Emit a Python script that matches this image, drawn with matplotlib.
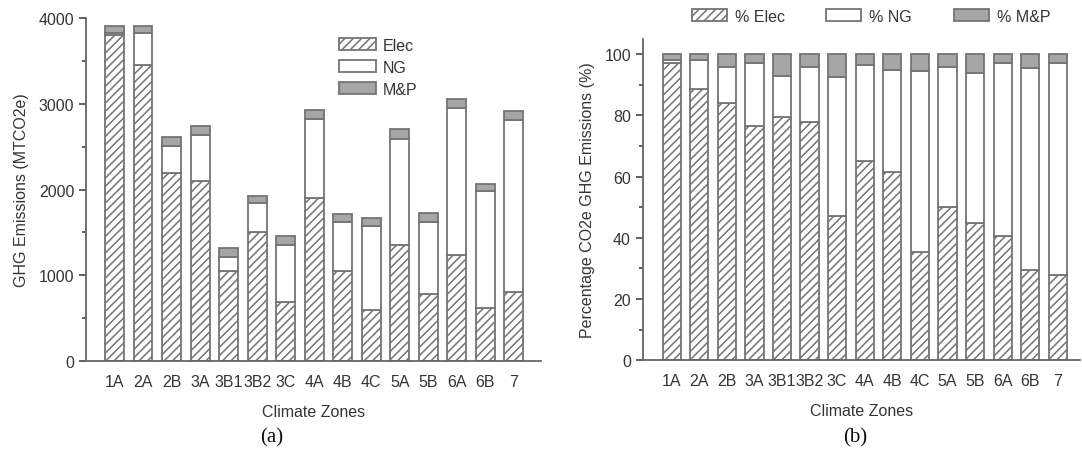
import numpy as np
import matplotlib
matplotlib.use("Agg")
from matplotlib import pyplot as plt

plt.rcParams['font.family'] = ['Liberation Sans', 'DejaVu Sans']
plt.rcParams['hatch.color'] = '#6e6e6e'
plt.rcParams['hatch.linewidth'] = 1.1

# Data
zones = ['1A', '2A', '2B', '3A', '3B1', '3B2', '3C', '4A', '4B', '4C', '5A', '5B', '6A', '6B', '7']

# (a) absolute emissions, MTCO2e
elec = [3800, 3450, 2190, 2100, 1050, 1500, 690, 1900, 1050, 600, 1350, 780, 1240, 620, 810]
ng = [30, 380, 320, 540, 165, 340, 660, 920, 570, 970, 1240, 840, 1710, 1360, 2000]
mp = [80, 80, 100, 100, 100, 90, 110, 110, 90, 100, 110, 110, 100, 90, 100]

# (b) shares, %
pct_elec = [97, 88.5, 84, 76.5, 79.5, 78, 47, 65, 61.5, 35.5, 50, 45, 40.5, 29.5, 28]
pct_ng = [1, 9.5, 12, 20.5, 13.5, 18, 45.5, 31.5, 33.5, 59, 46, 49, 56.5, 66, 69]
pct_mp = [2, 2, 4, 3, 7, 4, 7.5, 3.5, 5, 5.5, 4, 6, 3, 4.5, 3]

edge = '#747474'
grey = '#a6a6a6'
txt = '#353535'
fs = 11.5

fig = plt.figure(figsize=(10.82, 4.52), dpi=100)
ax1 = fig.add_axes([0.0795, 0.199, 0.4205, 0.759])
ax2 = fig.add_axes([0.594, 0.201, 0.404, 0.7105])


def stacked(ax, a, b, c, labels):
    x = np.arange(len(zones))
    a = np.array(a)
    b = np.array(b)
    c = np.array(c)
    h1 = ax.bar(x, a, 0.66, color='white', edgecolor=edge, hatch='////', lw=1.3, label=labels[0])
    h2 = ax.bar(x, b, 0.66, bottom=a, color='white', edgecolor=edge, lw=1.3, label=labels[1])
    h3 = ax.bar(x, c, 0.66, bottom=a + b, color=grey, edgecolor=edge, lw=1.3, label=labels[2])
    ax.set_xticks(x)
    ax.set_xticklabels(zones)
    ax.tick_params(axis='x', length=0, pad=9, labelsize=fs, colors=txt)
    ax.tick_params(axis='y', which='major', direction='out', length=5, labelsize=fs, colors=txt, width=1.1)
    ax.tick_params(axis='y', which='minor', direction='out', length=3, colors=txt, width=1.1)
    for s in ['top', 'right']:
        ax.spines[s].set_visible(False)
    for s in ['left', 'bottom']:
        ax.spines[s].set_color('#666666')
        ax.spines[s].set_linewidth(1.3)
    ax.set_xlabel('Climate Zones', fontsize=fs, color=txt, labelpad=11)
    return h1, h2, h3


stacked(ax1, elec, ng, mp, ['Elec', 'NG', 'M&P'])
ax1.set_xlim(-1.0, 14.95)
ax1.set_ylim(0, 4000)
ax1.set_yticks([0, 1000, 2000, 3000, 4000])
ax1.set_yticks([500, 1500, 2500, 3500], minor=True)
ax1.set_ylabel('GHG Emissions (MTCO2e)', fontsize=fs, color=txt, labelpad=7)
ax1.legend(loc='upper left', bbox_to_anchor=(0.525, 0.985), frameon=False, fontsize=11.5,
           handlelength=2.3, handleheight=0.75, labelspacing=0.45, handletextpad=0.45,
           labelcolor=txt)

hs = stacked(ax2, pct_elec, pct_ng, pct_mp, ['% Elec', '% NG', '% M&P'])
ax2.set_xlim(-1.05, 14.8)
ax2.set_ylim(0, 105)
ax2.set_yticks([0, 20, 40, 60, 80, 100])
ax2.set_yticks([10, 30, 50, 70, 90], minor=True)
ax2.set_ylabel('Percentage CO2e GHG Emissions (%)', fontsize=fs, color=txt, labelpad=7)
fig.legend(hs, ['% Elec', '% NG', '% M&P'], loc='center left', bbox_to_anchor=(0.626, 0.962),
           ncol=3, frameon=False, fontsize=11.5, handlelength=2.2, handleheight=0.75,
           columnspacing=2.6, handletextpad=0.5, labelcolor=txt)

fig.text(0.251, 0.02, '(a)', family='Liberation Serif', fontsize=15, ha='center', color='#111111')
fig.text(0.79, 0.02, '(b)', family='Liberation Serif', fontsize=15, ha='center', color='#111111')

fig.savefig('out.png', dpi=100)
